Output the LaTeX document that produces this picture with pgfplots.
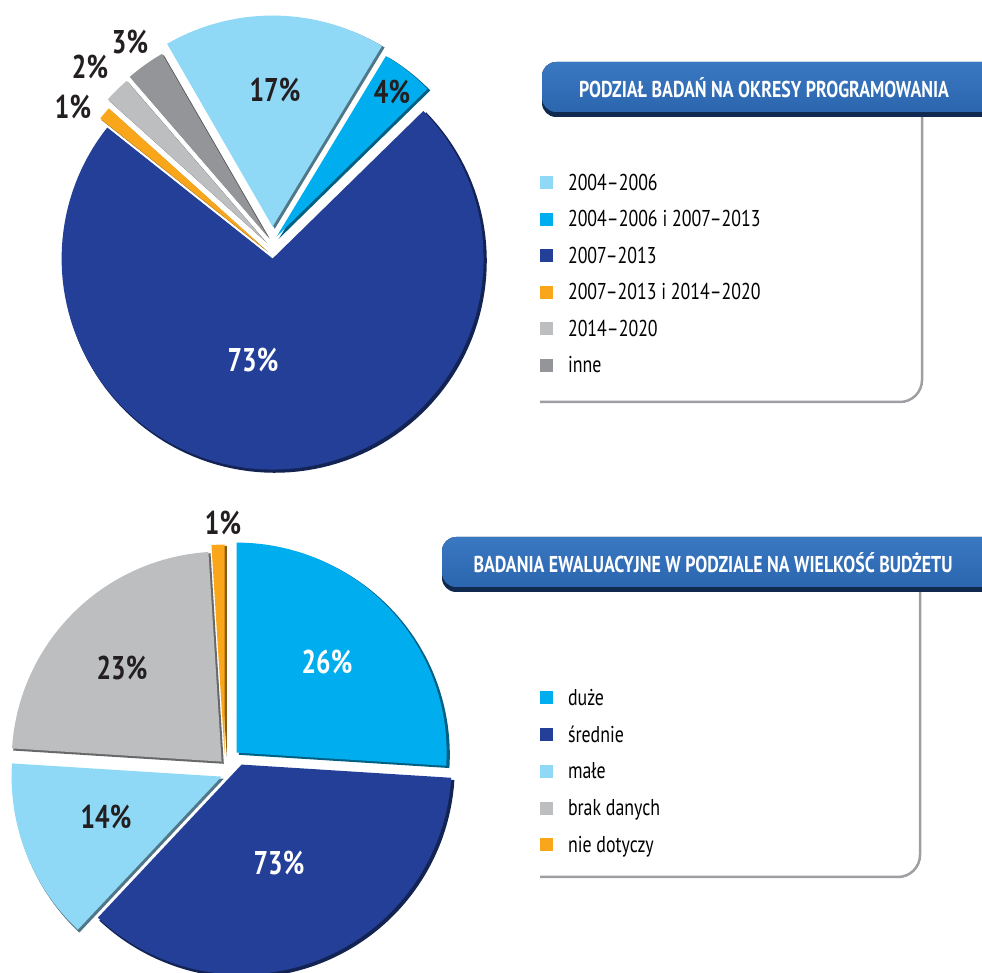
\documentclass[border=0pt]{standalone}
\usepackage{fontspec}
\setmainfont{PT Sans}[FakeStretch=0.82]
\newfontfamily\condfont{PT Sans}[FakeStretch=0.78]
\usepackage{pgfplots}
\usepackage{pgfplotstable}
\pgfplotsset{compat=1.18}

\definecolor{cLB}{HTML}{8FD8F6}
\definecolor{cCY}{HTML}{00AEEF}
\definecolor{cDB}{HTML}{233F98}
\definecolor{cOR}{HTML}{FAA61A}
\definecolor{cLG}{HTML}{BCBEC0}
\definecolor{cGR}{HTML}{939598}
\definecolor{cTX}{HTML}{231F20}
\definecolor{cBN}{HTML}{2B66AE}
\definecolor{cBNl}{HTML}{3A78C2}
\definecolor{cBNd}{HTML}{0F2A4E}
\definecolor{cLN}{HTML}{9D9FA2}

% slice values (percent), slice vertex position (px), colour
\pgfplotstableread{
value cx cy color
17 273 746 cLB
4 277 736 cCY
73 273 714 cDB
1 266 723 cOR
2 265 732 cLG
3 268 736 cGR
}\toptable

\pgfplotstableread{
value cx cy color
26 237 220 cCY
36 242 208 cDB
14 222 196 cLB
23 222 211 cLG
1 225 218 cOR
}\bottable

\newcommand\legfont{\condfont\fontsize{23}{25}\selectfont}
\newcommand\pctfont{\condfont\fontsize{33}{33}\selectfont\bfseries}
\newcommand\banfont{\condfont\fontsize{23}{23}\selectfont\bfseries}

\newcommand\drawpie[3]{%
  \pgfplotstablegetrowsof{#1}%
  \pgfmathtruncatemacro\nrows{\pgfplotsretval-1}%
  \xdef\curang{#2}%
  \pgfplotsforeachungrouped \r in {0,...,\nrows}{%
    \pgfplotstablegetelem{\r}{value}\of#1\let\slv\pgfplotsretval
    \pgfplotstablegetelem{\r}{cx}\of#1\let\slx\pgfplotsretval
    \pgfplotstablegetelem{\r}{cy}\of#1\let\sly\pgfplotsretval
    \pgfplotstablegetelem{\r}{color}\of#1\let\slc\pgfplotsretval
    \pgfmathsetmacro\angend{\curang-\slv*3.6}%
    \pgfmathsetmacro\shx{\slx+1.8}%
    \pgfmathsetmacro\shy{\sly-1.8}%
    \pgfmathsetmacro\mnx{\slx-0.4}%
    \pgfmathsetmacro\mny{\sly+0.4}%
    \pgfmathsetmacro\rr{#3-1}%
    \edef\doit{%
      \noexpand\addplot[forget plot, mark=none, draw=none, fill=\slc!55!black, domain=\angend:\curang, samples=120]
        ({\shx+#3*cos(x)},{\shy+#3*sin(x)}) -- (axis cs:\shx,\shy) -- cycle;
      \noexpand\addplot[mark=none, draw=none, fill=\slc, domain=\angend:\curang, samples=120]
        ({\mnx+\rr*cos(x)},{\mny+\rr*sin(x)}) -- (axis cs:\mnx,\mny) -- cycle;
    }%
    \doit
    \xdef\curang{\angend}%
  }%
}

\pgfplotsset{pieaxis/.style={
  scale only axis, width=982bp, height=973bp,
  xmin=0, xmax=982, ymin=0, ymax=973,
  hide axis, clip=true, at={(0,0)}, anchor=south west,
  legend image code/.code={\fill[##1] (0bp,1bp) rectangle (13bp,14bp);},
  legend style={draw=none, fill=none, inner sep=0pt, outer sep=0pt,
    font=\legfont, cells={anchor=base west},
    nodes={inner sep=0pt, text height=15bp, text depth=4bp},
    column sep=15bp},
}}

\begin{document}
\begin{tikzpicture}
% ---------------- top chart ----------------
\begin{axis}[pieaxis,
  legend style={at={(axis cs:540,797.5)}, anchor=north west, row sep=17.5bp},
  legend entries={2004–2006, 2004–2006 i 2007–2013, 2007–2013, 2007–2013 i 2014–2020, 2014–2020, inne}]
\coordinate (BL) at (axis cs:0,0);
\coordinate (TR) at (axis cs:982,973);
\draw[cLN, line width=2.5bp, rounded corners=22bp] (axis cs:922,858) -- (axis cs:922,571) -- (axis cs:540,571);
\fill[cBNd, rounded corners=14bp] (axis cs:542,856) rectangle (axis cs:1040,911);
\shade[top color=cBNl, bottom color=cBN, rounded corners=14bp] (axis cs:542,861) rectangle (axis cs:1040,911);
\node[text=white, font=\banfont] at (axis cs:764,885) {PODZIAŁ BADAŃ NA OKRESY PROGRAMOWANIA};
\drawpie{\toptable}{120}{212}
\node[text=cTX, font=\pctfont] at (axis cs:275,883) {17\%};
\node[text=cTX, font=\pctfont] at (axis cs:392,881) {4\%};
\node[text=white, font=\pctfont] at (axis cs:253,613) {73\%};
\node[text=cTX, font=\pctfont] at (axis cs:130,931) {3\%};
\node[text=cTX, font=\pctfont] at (axis cs:90,906) {2\%};
\node[text=cTX, font=\pctfont] at (axis cs:73,866) {1\%};
\end{axis}
% ---------------- bottom chart ----------------
\begin{axis}[pieaxis,
  legend style={at={(axis cs:540,282.5)}, anchor=north west, row sep=17.75bp},
  legend entries={duże, średnie, małe, brak danych, nie dotyczy}]
\draw[cLN, line width=2.5bp, rounded corners=22bp] (axis cs:920,383) -- (axis cs:920,96) -- (axis cs:540,96);
\fill[cBNd, rounded corners=14bp] (axis cs:442,381) rectangle (axis cs:1040,436);
\shade[top color=cBNl, bottom color=cBN, rounded corners=14bp] (axis cs:442,386) rectangle (axis cs:1040,436);
\node[text=white, font=\banfont] at (axis cs:713,410) {BADANIA EWALUACYJNE W PODZIALE NA WIELKOŚĆ BUDŻETU};
\drawpie{\bottable}{90}{211}
\node[text=cTX, font=\pctfont] at (axis cs:223,450) {1\%};
\node[text=white, font=\pctfont] at (axis cs:327,311) {26\%};
\node[text=cTX, font=\pctfont] at (axis cs:122,305) {23\%};
\node[text=cTX, font=\pctfont] at (axis cs:106,156) {14\%};
\node[text=white, font=\pctfont] at (axis cs:279,110) {73\%};
\end{axis}
\pgfresetboundingbox
\useasboundingbox (BL) rectangle (TR);
\end{tikzpicture}
\end{document}
